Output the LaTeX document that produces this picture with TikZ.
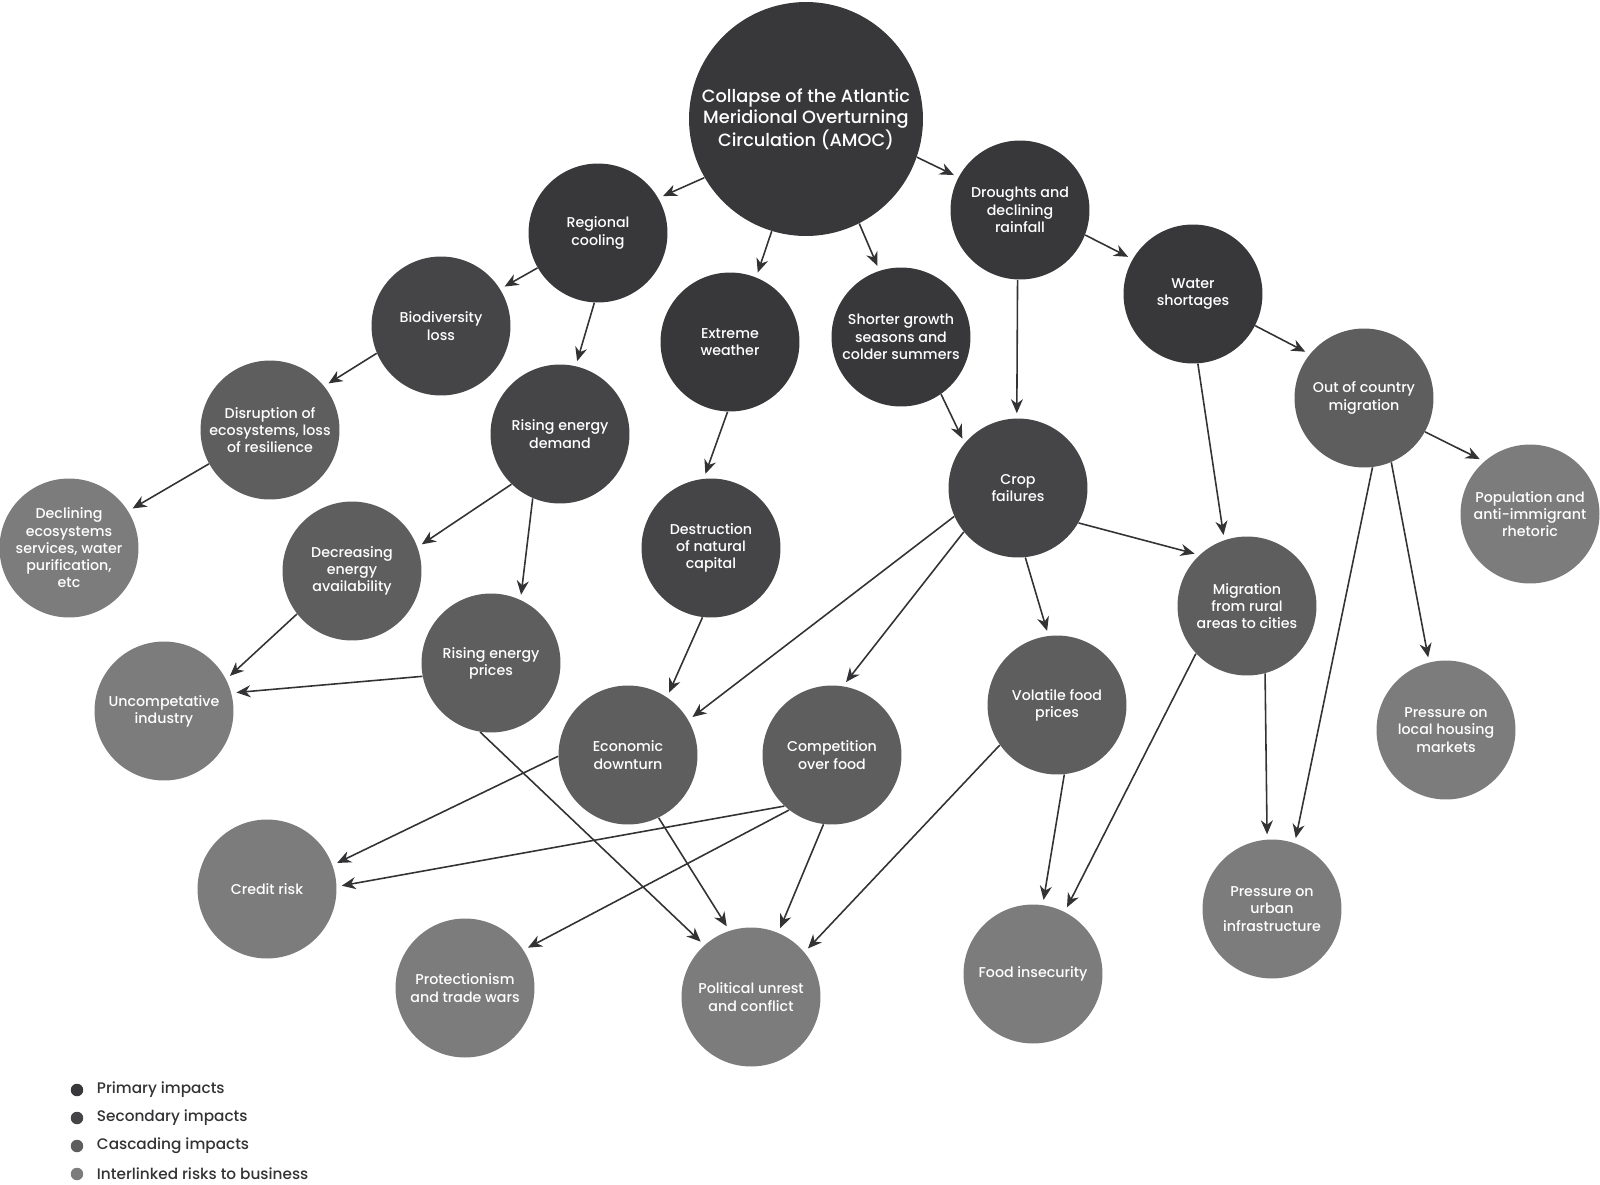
\documentclass[tikz,border=0pt]{standalone}
\usepackage{fontspec}
\setmainfont{Poppins Medium}
\usetikzlibrary{arrows.meta, positioning}
\definecolor{primaryc}{HTML}{38383A}
\definecolor{secondc}{HTML}{454547}
\definecolor{cascadec}{HTML}{5E5E5F}
\definecolor{riskc}{HTML}{7C7C7D}
\definecolor{arrowc}{HTML}{333335}

\begin{document}
\begin{tikzpicture}[
    x=0.02cm, y=-0.02cm,
    impact/.style={circle, minimum size=2.78cm, inner sep=0pt,
        align=center, text=white, font=\fontsize{8.1}{9.8}\selectfont},
    primary/.style={impact, fill=primaryc},
    secondary/.style={impact, fill=secondc},
    cascading/.style={impact, fill=cascadec},
    risk/.style={impact, fill=riskc},
    rootnode/.style={primary, minimum size=4.68cm,
        font=\fontsize{10.1}{11.9}\selectfont},
    arr/.style={-{Stealth[length=0.28cm, width=0.24cm, inset=0.09cm]},
        line width=0.9pt, color=arrowc, shorten >=0.1cm},
    legdot/.style={circle, minimum size=0.25cm, inner sep=0pt},
    legtext/.style={inner sep=0pt, text=arrowc, font=\fontsize{8.7}{9.8}\selectfont},
]
\useasboundingbox (0,0) rectangle (1600,1184);

% ── ROOT AND PRIMARY IMPACTS ────────────────────────────────────────────────
\node[rootnode]  at (806, 119)  (amoc)    {Collapse of the Atlantic\\Meridional Overturning\\Circulation (AMOC)};
\node[primary]   at (598, 233)  (cool)    {Regional\\cooling};
\node[primary]   at (730, 342)  (ext)     {Extreme\\weather};
\node[primary]   at (901, 337)  (short)   {Shorter growth\\seasons and\\colder summers};
\node[primary]   at (1020, 210) (drought) {Droughts and\\declining\\rainfall};
\node[primary]   at (1193, 294) (water)   {Water\\shortages};

% ── SECONDARY IMPACTS ───────────────────────────────────────────────────────
\node[secondary] at (441, 326)  (bio)     {Biodiversity\\loss};
\node[secondary] at (560, 434)  (demand)  {Rising energy\\demand};
\node[secondary] at (711, 548)  (destr)   {Destruction\\of natural\\capital};
\node[secondary] at (1018, 488) (crop)    {Crop\\failures};

% ── CASCADING IMPACTS ───────────────────────────────────────────────────────
\node[cascading] at (270, 430)  (disr)    {Disruption of\\ecosystems, loss\\of resilience};
\node[cascading] at (352, 571)  (decr)    {Decreasing\\energy\\availability};
\node[cascading] at (491, 663)  (eprice)  {Rising energy\\prices};
\node[cascading] at (628, 755)  (econ)    {Economic\\downturn};
\node[cascading] at (832, 755)  (compet)  {Competition\\over food};
\node[cascading] at (1057, 705) (vol)     {Volatile food\\prices};
\node[cascading] at (1247, 606) (rural)   {Migration\\from rural\\areas to cities};
\node[cascading] at (1364, 398) (outc)    {Out of country\\migration};

% ── INTERLINKED RISKS TO BUSINESS ───────────────────────────────────────────
\node[risk]      at (69, 548)   (decl)    {Declining\\ecosystems\\services, water\\purification,\\etc};
\node[risk]      at (164, 711)  (uncomp)  {Uncompetative\\industry};
\node[risk]      at (267, 889)  (credit)  {Credit risk};
\node[risk]      at (465, 988)  (protect) {Protectionism\\and trade wars};
\node[risk]      at (751, 997)  (unrest)  {Political unrest\\and conflict};
\node[risk]      at (1033, 974) (foodins) {Food insecurity};
\node[risk]      at (1272, 909) (urban)   {Pressure on\\urban\\infrastructure};
\node[risk]      at (1446, 730) (housing) {Pressure on\\local housing\\markets};
\node[risk]      at (1530, 514) (popu)    {Population and\\anti-immigrant\\rhetoric};

% ── CONNECTORS ──────────────────────────────────────────────────────────────
\draw[arr] (amoc.210)    -- (cool.30);
\draw[arr] (amoc.253)    -- (ext.68);
\draw[arr] (amoc.297)    -- (short.108);
\draw[arr] (amoc.341)    -- (drought.152);

\draw[arr] (cool.210)    -- (bio.32);
\draw[arr] (cool.267)    -- (demand.77);
\draw[arr] (bio.203)     -- (disr.39);
\draw[arr] (disr.209)    -- (decl.32);

\draw[arr] (demand.226)  -- (decr.20);
\draw[arr] (demand.247)  -- (eprice.65);
\draw[arr] (decr.218)    -- (uncomp.27);
\draw[arr] (eprice.191)  -- (uncomp.15);
\draw[arr] (eprice.261)  -- (unrest.132);

\draw[arr] (ext.268)     -- (destr.96);
\draw[arr] (destr.263)   -- (econ.56);
\draw[arr] (short.305)   -- (crop.140);
\draw[arr] (drought.268) -- (crop.91);
\draw[arr] (drought.339) -- (water.150);

\draw[arr] (crop.204)    -- (econ.30);
\draw[arr] (crop.219)    -- (compet.81);
\draw[arr] (crop.276)    -- (vol.97);
\draw[arr] (crop.330)    -- (rural.133);

\draw[arr] (water.333)   -- (outc.141);
\draw[arr] (water.274)   -- (rural.109);
\draw[arr] (outc.331)    -- (popu.131);
\draw[arr] (outc.293)    -- (housing.104);
\draw[arr] (outc.277)    -- (urban.71);
\draw[arr] (rural.285)   -- (urban.94);
\draw[arr] (rural.223)   -- (foodins.63);

\draw[arr] (vol.276)     -- (foodins.82);
\draw[arr] (vol.215)     -- (unrest.40);
\draw[arr] (econ.181)    -- (credit.20);
\draw[arr] (econ.296)    -- (unrest.108);
\draw[arr] (compet.227)  -- (credit.2);
\draw[arr] (compet.232)  -- (protect.33);
\draw[arr] (compet.263)  -- (unrest.67);

% ── LEGEND ──────────────────────────────────────────────────────────────────
\node[legdot, fill=primaryc] at (77, 1090)   (lp) {};
\node[legdot, fill=secondc]  at (77, 1118)   (ls) {};
\node[legdot, fill=cascadec] at (77, 1146)   (lc) {};
\node[legdot, fill=riskc]    at (77, 1174)   (lr) {};
\node[legtext, right=0.26cm of lp] (tp) {Primary impacts};
\node[legtext, right=0.26cm of ls] (ts) {Secondary impacts};
\node[legtext, right=0.26cm of lc] (tc) {Cascading impacts};
\node[legtext, right=0.26cm of lr] (tr) {Interlinked risks to business};

\end{tikzpicture}
\end{document}
